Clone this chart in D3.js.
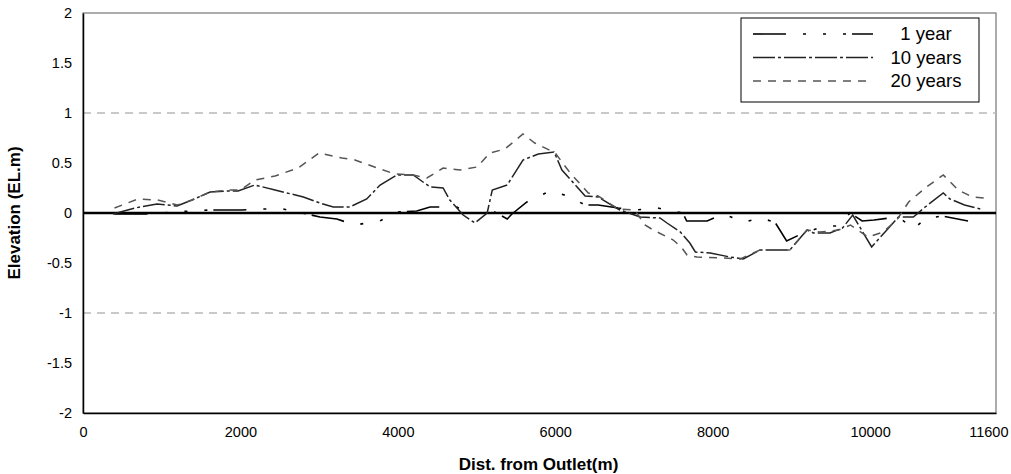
<!DOCTYPE html>
<html><head><meta charset="utf-8">
<script src="https://cdn.jsdelivr.net/npm/d3@7/dist/d3.min.js"></script>
<style>body{margin:0;background:#fff}svg{display:block}</style>
</head><body>
<svg id="c" width="1011" height="474"></svg>
<script>
const xTicks = [0, 2000, 4000, 6000, 8000, 10000, 11600];
const yTicks = [2, 1.5, 1, 0.5, 0, -0.5, -1, -1.5, -2];
const seriesNames = ["1 year", "10 years", "20 years"];

const dist1 = [400,800,1000,1360,1600,2020,2250,2540,2845,3010,3225,3455,3770,3990,4240,4410,4750,4880,5135,5210,5390,5450,5640,5935,6160,6380,6545,6800,7010,7300,7620,7670,7930,8130,8410,8600,8790,8940,9150,9430,9600,9745,9900,10050,10250,10380,10550,10700,10910,11245];
const elev1 = [-0.01,-0.01,0.0,0.02,0.03,0.03,0.04,0.04,-0.01,-0.04,-0.06,-0.12,-0.08,0.01,0.02,0.06,0.06,0.0,0.0,0.02,-0.06,-0.01,0.11,0.22,0.17,0.08,0.08,0.05,0.03,0.05,0.0,-0.08,-0.08,-0.01,-0.09,-0.05,-0.09,-0.28,-0.2,-0.13,-0.13,0.0,-0.08,-0.07,-0.05,-0.05,-0.16,-0.06,-0.03,-0.08];

const dist10 = [380,660,940,1195,1385,1615,1845,1970,2185,2440,2800,3010,3180,3390,3605,3775,3990,4195,4410,4575,4660,4830,4980,5135,5200,5390,5590,5785,5985,6085,6380,6545,6820,7080,7330,7420,7590,7710,7780,7970,8220,8390,8600,8980,9200,9280,9490,9650,9780,10020,10190,10360,10550,10700,10930,11015,11200,11400];
const elev10 = [-0.01,0.05,0.09,0.07,0.13,0.21,0.22,0.22,0.28,0.23,0.16,0.10,0.06,0.06,0.14,0.28,0.38,0.38,0.26,0.25,0.13,-0.02,-0.10,0.0,0.23,0.28,0.53,0.59,0.61,0.43,0.17,0.16,0.03,-0.04,-0.05,-0.10,-0.19,-0.30,-0.39,-0.40,-0.44,-0.46,-0.37,-0.37,-0.17,-0.20,-0.20,-0.15,-0.02,-0.34,-0.19,-0.04,-0.04,0.06,0.20,0.14,0.08,0.04];

const dist20 = [400,700,950,1200,1385,1615,1845,2000,2185,2440,2733,3000,3290,3456,3774,3965,4195,4370,4575,4790,5006,5170,5360,5590,5740,6000,6190,6420,6545,6800,7010,7140,7245,7500,7610,7675,7800,8120,8350,8600,8980,9200,9365,9600,9750,9975,10165,10340,10490,10700,10930,11120,11300,11450];
const elev20 = [0.05,0.14,0.13,0.08,0.13,0.21,0.23,0.23,0.33,0.37,0.45,0.60,0.55,0.53,0.44,0.39,0.38,0.35,0.45,0.43,0.46,0.60,0.64,0.79,0.70,0.60,0.40,0.20,0.17,0.04,0.03,-0.12,-0.17,-0.27,-0.35,-0.42,-0.44,-0.45,-0.46,-0.37,-0.37,-0.17,-0.19,-0.17,-0.12,-0.24,-0.19,-0.07,0.11,0.25,0.38,0.23,0.16,0.15];

const L = 83, R = 996, T = 13, B = 413;
const svg = d3.select("#c");
const x = d3.scaleLinear().domain([0, 11600]).range([L, R]);
const y = d3.scaleLinear().domain([-2, 2]).range([B, T]);
const font = "'Liberation Sans', Arial, sans-serif";

// plot border (top/right gray)
svg.append("rect").attr("x", L).attr("y", T).attr("width", R - L).attr("height", B - T)
  .attr("fill", "none").attr("stroke", "#808080").attr("stroke-width", 1.3);

// dashed gridlines at +-1
[1, -1].forEach(v => {
  svg.append("line").attr("x1", L).attr("x2", R).attr("y1", y(v)).attr("y2", y(v))
    .attr("stroke", "#b8b8b8").attr("stroke-width", 1.5).attr("stroke-dasharray", "8,6");
});

// axes
const xAxis = d3.axisBottom(x).tickValues(xTicks).tickSize(0).tickPadding(14).tickFormat(d3.format("d"));
const gx = svg.append("g").attr("transform", `translate(0,${B})`).call(xAxis);
gx.select(".domain").attr("stroke", "#000").attr("stroke-width", 1.5);
gx.selectAll("text").attr("font-family", font).attr("font-size", 14.5).attr("fill", "#000");
gx.selectAll(".tick").filter(d => d === 11600).select("text").attr("text-anchor", "end").attr("x", 1008 - x(11600));

const yAxis = d3.axisLeft(y).tickValues(yTicks).tickSize(0).tickPadding(11).tickFormat(d => d);
const gy = svg.append("g").attr("transform", `translate(${L},0)`).call(yAxis);
gy.select(".domain").attr("stroke", "#000").attr("stroke-width", 1.5);
gy.selectAll("text").attr("font-family", font).attr("font-size", 14.5).attr("fill", "#000");

// zero line
svg.append("line").attr("x1", L).attr("x2", R).attr("y1", y(0)).attr("y2", y(0))
  .attr("stroke", "#000").attr("stroke-width", 2.6);

const styles = [
  {color: "#000", dash: "33,17,3,17,3,17,3,6", w: 1.6},
  {color: "#222", dash: "22,3,3,3", w: 1.5},
  {color: "#555", dash: "8,7", w: 1.5}
];
const data = [
  dist1.map((d, i) => [d, elev1[i]]),
  dist10.map((d, i) => [d, elev10[i]]),
  dist20.map((d, i) => [d, elev20[i]])
];
const line = d3.line().x(d => x(d[0])).y(d => y(d[1]));
data.forEach((s, i) => {
  svg.append("path").datum(s).attr("d", line).attr("fill", "none")
    .attr("stroke", styles[i].color).attr("stroke-width", styles[i].w)
    .attr("stroke-dasharray", styles[i].dash);
});

// legend
const lg = svg.append("g");
lg.append("rect").attr("x", 741).attr("y", 18).attr("width", 238).attr("height", 84)
  .attr("fill", "#fff").attr("stroke", "#000").attr("stroke-width", 1);
seriesNames.forEach((n, i) => {
  const yy = 34 + i * 23.5;
  lg.append("line").attr("x1", 753).attr("x2", 873).attr("y1", yy).attr("y2", yy)
    .attr("stroke", styles[i].color).attr("stroke-width", styles[i].w)
    .attr("stroke-dasharray", styles[i].dash);
  lg.append("text").attr("x", 926).attr("y", yy).attr("dy", "0.35em")
    .attr("text-anchor", "middle").attr("font-family", font).attr("font-size", 18.5)
    .text(n);
});

// axis titles
svg.append("text").attr("x", (L + R) / 2 - 1).attr("y", 470).attr("text-anchor", "middle")
  .attr("font-family", font).attr("font-size", 17).attr("font-weight", "bold").text("Dist. from Outlet(m)");
svg.append("text").attr("transform", `translate(20,${y(0)}) rotate(-90)`).attr("text-anchor", "middle")
  .attr("font-family", font).attr("font-size", 17).attr("font-weight", "bold").text("Elevation (EL.m)");
</script>
</body></html>
